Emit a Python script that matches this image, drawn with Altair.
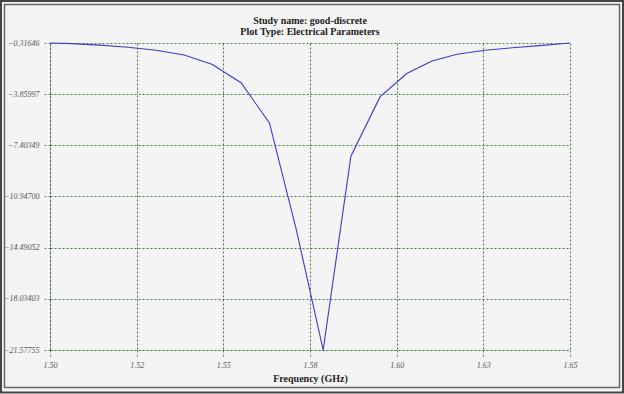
import altair as alt
import pandas as pd

# ---- data ----
freq = [1.5000, 1.5063, 1.5144, 1.5225, 1.5306, 1.5387, 1.5467, 1.5551, 1.5633, 1.5711,
        1.5788, 1.5868, 1.5952, 1.6029, 1.6102, 1.6174, 1.6255, 1.6333, 1.6413, 1.6500]
db = [-0.316, -0.358, -0.462, -0.614, -0.821, -1.147, -1.790, -3.07, -5.85, -13.3,
      -21.57755, -8.157, -4.053, -2.434, -1.562, -1.098, -0.821, -0.649, -0.496, -0.316]
x_ticks = [1.5, 1.525, 1.55, 1.575, 1.6, 1.625, 1.65]
x_labels = ["1.50", "1.52", "1.55", "1.58", "1.60", "1.63", "1.65"]
y_ticks = [-0.31646, -3.85997, -7.40349, -10.94700, -14.49052, -18.03403, -21.57755]
title_lines = ["Study name: good-discrete", "Plot Type: Electrical Parameters"]
x_title = "Frequency (GHz)"

df = pd.DataFrame({"freq": freq, "db": db})
one = pd.DataFrame({"k": [0]})

GRID = "#3f7f3f"
SERIF = "Liberation Serif"

label_arr = "[" + ",".join("'%s'" % s for s in x_labels) + "]"

line = alt.Chart(df).mark_line(color="#3b3bcc", strokeWidth=1.1).encode(
    x=alt.X("freq:Q",
            scale=alt.Scale(domain=[1.5, 1.65], nice=False, zero=False),
            axis=alt.Axis(values=x_ticks,
                          labelExpr=label_arr + "[round((datum.value-1.5)/0.025)]",
                          title=x_title, grid=True, gridColor=GRID, gridDash=[2, 2],
                          gridOpacity=1, domainColor=GRID, domainDash=[2, 2],
                          tickColor="#777", tickDash=[2, 2], tickSize=6,
                          labelFlush=False,
                          labelFont=SERIF, labelFontStyle="italic", labelFontSize=8,
                          labelColor="#555", labelPadding=5,
                          titleFont=SERIF, titleFontWeight="bold", titleFontSize=10,
                          titleColor="#222", titlePadding=4)),
    y=alt.Y("db:Q",
            scale=alt.Scale(domain=[-21.57755, -0.31646], nice=False, zero=False),
            axis=alt.Axis(values=y_ticks, labelExpr="format(datum.value, '.5f')",
                          title=None, grid=True, gridColor=GRID, gridDash=[2, 2],
                          gridOpacity=1, domainColor=GRID, domainDash=[2, 2],
                          tickColor="#777", tickDash=[2, 2], tickSize=8,
                          labelFlush=False,
                          labelFont=SERIF, labelFontStyle="italic", labelFontSize=8,
                          labelColor="#555", labelPadding=3)),
)

outer = alt.Chart(one).mark_rect(fill=None, stroke="#444", strokeWidth=2).encode(
    x=alt.value(-49), x2=alt.value(573), y=alt.value(-42), y2=alt.value(349.5))
inner = alt.Chart(one).mark_rect(fill=None, stroke="#666", strokeWidth=1.5).encode(
    x=alt.value(-45.5), x2=alt.value(569.5), y=alt.value(-38.5), y2=alt.value(344.5))

t1 = alt.Chart(one).mark_text(font=SERIF, fontWeight="bold", fontSize=10, color="#222",
                              baseline="middle", align="center").encode(
    x=alt.value(260), y=alt.value(-22), text=alt.value(title_lines[0]))
t2 = alt.Chart(one).mark_text(font=SERIF, fontWeight="bold", fontSize=10, color="#222",
                              baseline="middle", align="center").encode(
    x=alt.value(260), y=alt.value(-11), text=alt.value(title_lines[1]))

chart = alt.layer(line, outer, inner, t1, t2).properties(
    width=520, height=307,
    autosize=alt.AutoSizeParams(type="none"),
    padding={"left": 50, "top": 43, "right": 54, "bottom": 44},
    background="#f4f4f4",
).configure_view(stroke=None)

chart.save("out.html", embed_options={"renderer": "svg", "actions": False})
